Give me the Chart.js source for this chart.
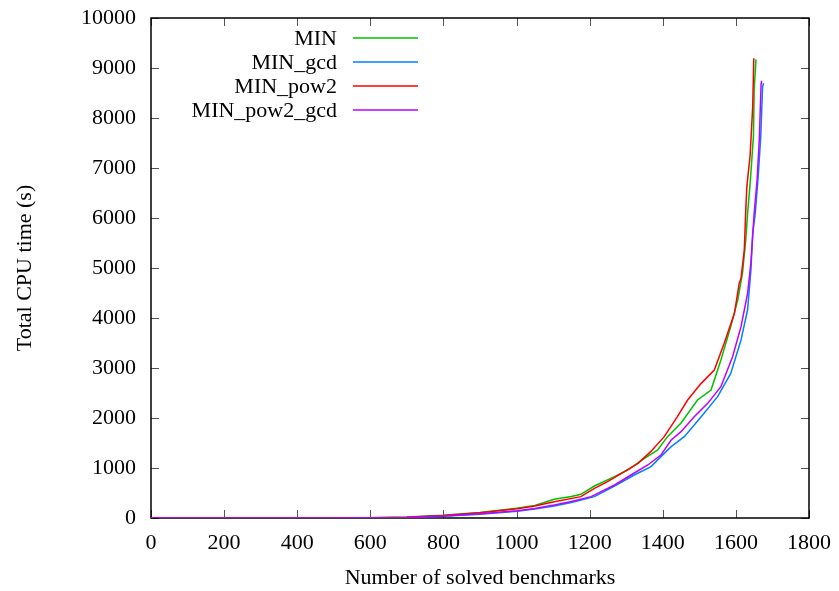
<!DOCTYPE html>
<html>
<head>
<meta charset="utf-8">
<script src="https://cdn.jsdelivr.net/npm/chart.js@4/dist/chart.umd.min.js"></script>
<style>
html, body { margin: 0; padding: 0; background: #fff; }
#wrap { width: 839px; height: 591px; }
</style>
</head>
<body>
<div id="wrap"><canvas id="cpuChart"></canvas></div>
<script>

const seriesNames = ["MIN", "MIN_gcd", "MIN_pow2", "MIN_pow2_gcd"];
const seriesColors = ["#00c000", "#0080ff", "#ff0000", "#c000ff"];

// solved benchmarks (x) and cumulative CPU time (y) per configuration
const minX = [0, 300, 500, 600, 700, 800, 900, 1000, 1050, 1103, 1150, 1176, 1213, 1268, 1304, 1350, 1386, 1413, 1450, 1495, 1532, 1559, 1586, 1605, 1618, 1627, 1632, 1639, 1648, 1650, 1655];
const minY = [0, 0, 1, 4, 18, 55, 110, 195, 250, 373, 430, 473, 640, 827, 960, 1193, 1360, 1627, 1900, 2360, 2560, 3160, 3827, 4360, 4893, 5560, 6093, 6693, 7627, 8560, 9173];

const gcdX = [0, 300, 500, 600, 700, 800, 900, 1002, 1050, 1103, 1150, 1213, 1268, 1322, 1368, 1404, 1423, 1459, 1505, 1550, 1586, 1614, 1632, 1641, 1646, 1653, 1661, 1668, 1673, 1676];
const gcdY = [0, 0, 1, 3, 10, 35, 75, 135, 180, 240, 310, 427, 640, 860, 1027, 1293, 1427, 1627, 2027, 2427, 2893, 3560, 4160, 4950, 5693, 6093, 6827, 7627, 8627, 8693];

const pow2X = [0, 300, 500, 600, 700, 800, 900, 1002, 1050, 1103, 1176, 1213, 1249, 1295, 1332, 1367, 1404, 1440, 1468, 1505, 1541, 1568, 1596, 1609, 1614, 1623, 1627, 1630, 1639, 1646, 1649];
const pow2Y = [0, 0, 1, 4, 17, 50, 107, 187, 240, 327, 427, 593, 727, 927, 1093, 1327, 1627, 2027, 2360, 2693, 2960, 3493, 4093, 4693, 4793, 5360, 6160, 6627, 7260, 8227, 9193];

const pow2gcdX = [0, 300, 500, 600, 700, 800, 900, 1002, 1050, 1103, 1150, 1204, 1268, 1313, 1359, 1395, 1423, 1450, 1486, 1523, 1559, 1591, 1614, 1632, 1641, 1650, 1658, 1664, 1669, 1670];
const pow2gcdY = [0, 0, 1, 3, 12, 40, 85, 147, 190, 260, 330, 427, 660, 860, 1060, 1260, 1560, 1727, 2027, 2293, 2627, 3227, 3827, 4493, 5100, 6093, 6760, 7560, 8693, 8747];

const xTicks = [0, 200, 400, 600, 800, 1000, 1200, 1400, 1600, 1800];
const yTicks = [0, 1000, 2000, 3000, 4000, 5000, 6000, 7000, 8000, 9000, 10000];

const FONT = "'Liberation Serif', 'Times New Roman', serif";

function toPoints(xs, ys){
  return xs.map((x, i) => ({x: x, y: ys[i]}));
}

const allX = [minX, gcdX, pow2X, pow2gcdX];
const allY = [minY, gcdY, pow2Y, pow2gcdY];

const datasets = seriesNames.map((name, i) => ({
  label: name,
  data: toPoints(allX[i], allY[i]),
  borderColor: seriesColors[i],
  backgroundColor: seriesColors[i],
  borderWidth: 1.5,
  pointRadius: 0,
  showLine: true,
  fill: false,
  tension: 0,
  order: seriesNames.length - i
}));

// gnuplot style box with inward ticks on all four sides
const framePlugin = {
  id: "frame",
  beforeDatasetsDraw(chart){
    const ctx = chart.ctx;
    const a = chart.chartArea;
    const xs = chart.scales.x;
    const ys = chart.scales.y;
    const len = 8;
    ctx.save();
    ctx.strokeStyle = "#555";
    ctx.lineWidth = 1;
    ctx.beginPath();
    xTicks.forEach(v => {
      const px = Math.round(xs.getPixelForValue(v)) + 0.5;
      ctx.moveTo(px, a.bottom); ctx.lineTo(px, a.bottom - len);
      ctx.moveTo(px, a.top); ctx.lineTo(px, a.top + len);
    });
    yTicks.forEach(v => {
      const py = Math.round(ys.getPixelForValue(v)) + 0.5;
      ctx.moveTo(a.left, py); ctx.lineTo(a.left + len, py);
      ctx.moveTo(a.right, py); ctx.lineTo(a.right - len, py);
    });
    ctx.stroke();
    ctx.strokeStyle = "#000";
    ctx.lineWidth = 1.5;
    ctx.strokeRect(a.left, a.top, a.right - a.left, a.bottom - a.top);
    ctx.restore();
  }
};

// key in the top left corner: right aligned names, sample line after
const keyPlugin = {
  id: "key",
  afterDraw(chart){
    const ctx = chart.ctx;
    ctx.save();
    ctx.font = "22px " + FONT;
    ctx.textAlign = "right";
    ctx.textBaseline = "middle";
    chart.data.datasets.forEach((ds, i) => {
      const y = 38 + i * 24;
      ctx.fillStyle = "#000";
      ctx.fillText(ds.label, 337, y + 1);
      ctx.strokeStyle = ds.borderColor;
      ctx.lineWidth = 1.5;
      ctx.beginPath();
      ctx.moveTo(353, y);
      ctx.lineTo(418, y);
      ctx.stroke();
    });
    ctx.restore();
  }
};

const ctx = document.getElementById("cpuChart").getContext("2d");

new Chart(ctx, {
  type: "scatter",
  data: { datasets: datasets },
  options: {
    responsive: true,
    maintainAspectRatio: false,
    animation: false,
    layout: { padding: { top: 18, right: 30, left: 0, bottom: 0 } },
    plugins: {
      legend: { display: false },
      tooltip: { enabled: false }
    },
    scales: {
      x: {
        type: "linear",
        min: 0,
        max: 1800,
        afterBuildTicks: s => { s.ticks = xTicks.map(v => ({value: v})); },
        afterFit: s => { s.height = 73; s.paddingLeft = 0; s.paddingRight = 0; },
        grid: { display: false, drawTicks: false },
        border: { display: false },
        ticks: {
          color: "#000",
          font: { family: FONT, size: 22 },
          padding: 12,
          maxRotation: 0,
          callback: v => String(v)
        },
        title: {
          display: true,
          text: "Number of solved benchmarks",
          color: "#000",
          font: { family: FONT, size: 22 },
          padding: { top: 0, bottom: 0 }
        }
      },
      y: {
        type: "linear",
        min: 0,
        max: 10000,
        afterBuildTicks: s => { s.ticks = yTicks.map(v => ({value: v})); },
        afterFit: s => { s.width = 151; s.paddingTop = 0; s.paddingBottom = 0; },
        grid: { display: false, drawTicks: false },
        border: { display: false },
        ticks: {
          color: "#000",
          font: { family: FONT, size: 22 },
          padding: 15,
          callback: v => String(v)
        },
        title: {
          display: true,
          text: "Total CPU time (s)",
          color: "#000",
          font: { family: FONT, size: 22 },
          padding: { top: 12, bottom: 0 }
        }
      }
    }
  },
  plugins: [framePlugin, keyPlugin]
});

</script>
</body>
</html>
